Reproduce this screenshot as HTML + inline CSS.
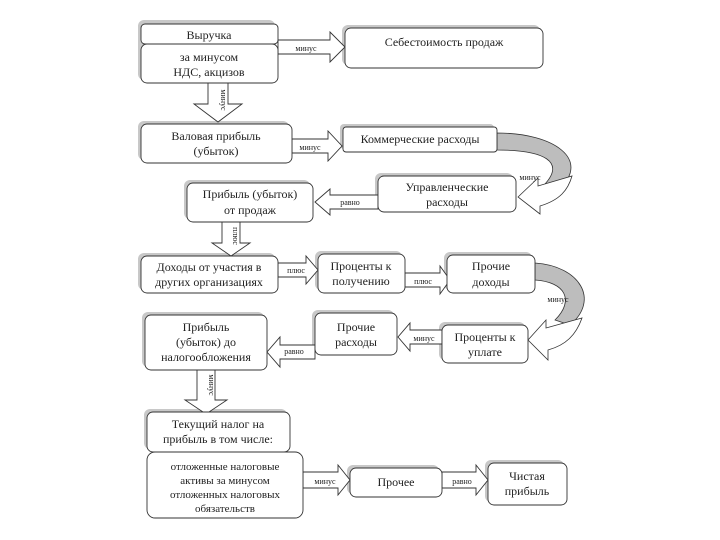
<!DOCTYPE html>
<html><head><meta charset="utf-8"><style>
html,body{margin:0;padding:0;background:#fff;width:720px;height:540px;overflow:hidden}
text{font-family:"Liberation Serif","Noto Serif CJK SC",serif;fill:#222}
</style></head><body>
<svg width="720" height="540" viewBox="0 0 720 540" xmlns="http://www.w3.org/2000/svg">
<g fill="#c8c8c8">
<rect x="138" y="20" width="137" height="60" rx="6"/>
<rect x="342" y="25" width="198" height="40" rx="6"/>
<rect x="138" y="121" width="151" height="39" rx="6"/>
<rect x="340" y="124" width="154" height="25" rx="4"/>
<rect x="375" y="173" width="138" height="36" rx="6"/>
<rect x="184" y="180" width="126" height="39" rx="6"/>
<rect x="138" y="253" width="137" height="37" rx="6"/>
<rect x="315" y="251" width="87" height="39" rx="6"/>
<rect x="444" y="252" width="88" height="38" rx="6"/>
<rect x="439" y="322" width="86" height="38" rx="6"/>
<rect x="312" y="310" width="82" height="42" rx="6"/>
<rect x="142" y="312" width="122" height="55" rx="6"/>
<rect x="144" y="409" width="143" height="40" rx="6"/>
<rect x="347" y="465" width="92" height="29" rx="6"/>
<rect x="485" y="460" width="79" height="42" rx="6"/>
</g>
<!-- curved arrows -->
<path d="M497 133 C555 133 590 160 560 188 L545 184 C565 162 545 150 497 150 Z" fill="#bdbdbd" stroke="#333" stroke-width="0.8"/>
<path d="M518 197 L538 178 L538 186 L572 176 C568 190 560 200 540 206 L540 214 Z" fill="#fff" stroke="#333" stroke-width="0.8"/>
<path d="M535 263 C580 266 600 300 570 325 L555 320 C575 300 565 282 535 280 Z" fill="#bdbdbd" stroke="#333" stroke-width="0.8"/>
<path d="M528 340 L546 320 L546 328 L582 318 C576 335 566 345 548 350 L548 360 Z" fill="#fff" stroke="#333" stroke-width="0.8"/>
<g fill="#fff" stroke="#333" stroke-width="0.9">
<path d="M278 40 L330 40 L330 32 L345 47 L330 62 L330 54 L278 54 Z"/>
<path d="M208 83 L228 83 L228 104 L242 104 L218 122 L194 104 L208 104 Z"/>
<path d="M292 139 L328 139 L328 131 L342 146 L328 161 L328 153 L292 153 Z"/>
<path d="M378 195 L330 195 L330 189 L315 202 L330 215 L330 209 L378 209 Z"/>
<path d="M222 222 L240 222 L240 243 L250 243 L231 256 L212 243 L222 243 Z"/>
<path d="M278 263 L306 263 L306 256 L318 270 L306 284 L306 277 L278 277 Z"/>
<path d="M405 273 L440 273 L440 266 L450 280 L440 294 L440 287 L405 287 Z"/>
<path d="M442 330 L410 330 L410 323 L398 337 L410 351 L410 344 L442 344 Z"/>
<path d="M315 345 L280 345 L280 337 L267 352 L280 367 L280 359 L315 359 Z"/>
<path d="M197 370 L215 370 L215 400 L227 400 L206 414 L185 400 L197 400 Z"/>
<path d="M303 472 L338 472 L338 465 L350 480 L338 495 L338 488 L303 488 Z"/>
<path d="M442 472 L476 472 L476 465 L488 480 L476 495 L476 488 L442 488 Z"/>
<rect x="141" y="24" width="137" height="20" rx="4"/>
<rect x="141" y="44" width="137" height="39" rx="6"/>
<rect x="345" y="28" width="198" height="40" rx="6"/>
<rect x="141" y="124" width="151" height="39" rx="6"/>
<rect x="343" y="127" width="154" height="25" rx="3"/>
<rect x="378" y="176" width="138" height="36" rx="6"/>
<rect x="187" y="183" width="126" height="39" rx="6"/>
<rect x="141" y="256" width="137" height="37" rx="6"/>
<rect x="318" y="254" width="87" height="39" rx="6"/>
<rect x="447" y="255" width="88" height="38" rx="6"/>
<rect x="442" y="325" width="86" height="38" rx="6"/>
<rect x="315" y="313" width="82" height="42" rx="6"/>
<rect x="145" y="315" width="122" height="55" rx="6"/>
<rect x="147" y="412" width="143" height="40" rx="6"/>
<rect x="147" y="452" width="156" height="66" rx="8"/>
<rect x="350" y="468" width="92" height="29" rx="6"/>
<rect x="488" y="463" width="79" height="42" rx="6"/>
</g>
<g font-size="12" text-anchor="middle">
<text x="209" y="39">Выручка</text>
<text x="209" y="61">за минусом</text>
<text x="209" y="76">НДС, акцизов</text>
<text x="444" y="46">Себестоимость продаж</text>
<text x="216" y="140">Валовая прибыль</text>
<text x="216" y="155">(убыток)</text>
<text x="420" y="143">Коммерческие расходы</text>
<text x="447" y="191">Управленческие</text>
<text x="447" y="206">расходы</text>
<text x="250" y="198">Прибыль (убыток)</text>
<text x="250" y="214">от продаж</text>
<text x="209" y="271">Доходы от участия в</text>
<text x="209" y="286">других организациях</text>
<text x="361" y="270">Проценты к</text>
<text x="361" y="285">получению</text>
<text x="491" y="270">Прочие</text>
<text x="491" y="286">доходы</text>
<text x="485" y="341">Проценты к</text>
<text x="485" y="356">уплате</text>
<text x="356" y="331">Прочие</text>
<text x="356" y="346">расходы</text>
<text x="206" y="331">Прибыль</text>
<text x="206" y="346">(убыток) до</text>
<text x="206" y="361">налогообложения</text>
<text x="218" y="428">Текущий налог на</text>
<text x="218" y="443">прибыль в том числе:</text>
<text x="225" y="470" font-size="11">отложенные налоговые</text>
<text x="225" y="484" font-size="11">активы за минусом</text>
<text x="225" y="498" font-size="11">отложенных налоговых</text>
<text x="225" y="512" font-size="11">обязательств</text>
<text x="396" y="486">Прочее</text>
<text x="527" y="480">Чистая</text>
<text x="527" y="495">прибыль</text>
</g>
<g font-size="8" text-anchor="middle">
<text x="306" y="51">минус</text>
<text x="310" y="150">минус</text>
<text x="350" y="205">равно</text>
<text x="296" y="273">плюс</text>
<text x="423" y="284">плюс</text>
<text x="424" y="341">минус</text>
<text x="294" y="354">равно</text>
<text x="325" y="484">минус</text>
<text x="462" y="484">равно</text>
<text x="530" y="180">минус</text>
<text x="558" y="302">минус</text>
<text transform="translate(221,100) rotate(90)">минус</text>
<text transform="translate(233,236) rotate(90)">плюс</text>
<text transform="translate(209,385) rotate(90)">минус</text>
</g>
</svg>
</body></html>
